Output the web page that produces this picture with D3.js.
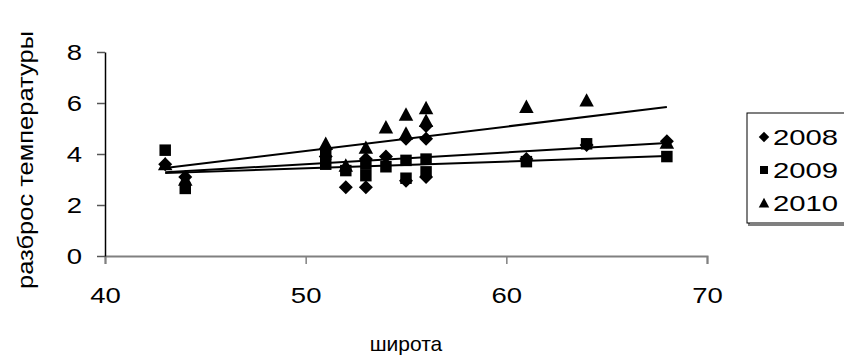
<!DOCTYPE html>
<html><head><meta charset="utf-8">
<script src="https://cdn.jsdelivr.net/npm/d3@7"></script>
<style>html,body{margin:0;padding:0;background:#fff}svg{display:block}</style>
</head><body>
<svg id="c" width="844" height="356"></svg>
<script>
const seriesNames = ["2008", "2009", "2010"];
const lat2008 = [43, 44, 51, 51, 52, 53, 53, 54, 55, 55, 56, 56, 56, 61, 64, 68];
const val2008 = [3.6, 3.1, 4.2, 3.9, 2.7, 2.7, 3.8, 3.9, 4.6, 2.95, 5.1, 4.6, 3.1, 3.8, 4.35, 4.5];
const lat2009 = [43, 44, 51, 51, 52, 53, 53, 54, 55, 55, 56, 56, 61, 64, 68];
const val2009 = [4.15, 2.65, 3.6, 4.0, 3.35, 3.15, 3.6, 3.5, 3.75, 3.05, 3.8, 3.3, 3.7, 4.4, 3.9];
const lat2010 = [43, 44, 51, 52, 53, 54, 55, 55, 56, 56, 61, 64, 68];
const val2010 = [3.6, 3.0, 4.4, 3.55, 4.25, 5.05, 5.55, 4.8, 5.8, 5.3, 5.85, 6.1, 4.45];
// linear trend lines: value at latitude 43 and at 68
const trendLat = [43, 68];
const trend2008 = [3.28, 4.43];
const trend2009 = [3.25, 3.92];
const trend2010 = [3.45, 5.84];
const xTicks = [40, 50, 60, 70];
const yTicks = [0, 2, 4, 6, 8];
const xTitle = "широта";
const yTitle = "разброс температуры";

const series = [
  {name: seriesNames[0], lat: lat2008, val: val2008, trend: trend2008, shape: "diamond"},
  {name: seriesNames[1], lat: lat2009, val: val2009, trend: trend2009, shape: "square"},
  {name: seriesNames[2], lat: lat2010, val: val2010, trend: trend2010, shape: "triangle"}
];

const FONT = "'Liberation Sans', Arial, sans-serif";
const svg = d3.select("#c");
const x = d3.scaleLinear().domain([40, 70]).range([105, 707]);
const y = d3.scaleLinear().domain([0, 8]).range([256, 52]);

function stretch(sel, f) {
  sel.each(function () {
    const len = this.getComputedTextLength();
    d3.select(this).attr("textLength", len * f).attr("lengthAdjust", "spacingAndGlyphs");
  });
}

const shapes = {
  diamond: {draw(ctx, s) { const r = Math.sqrt(s) / 2; ctx.moveTo(0, -r); ctx.lineTo(r, 0); ctx.lineTo(0, r); ctx.lineTo(-r, 0); ctx.closePath(); }},
  square: {draw(ctx, s) { const r = Math.sqrt(s) / 2; ctx.rect(-r, -r, 2 * r, 2 * r); }},
  triangle: {draw(ctx, s) { const r = Math.sqrt(s) / 2; ctx.moveTo(0, -r); ctx.lineTo(r, r * 0.85); ctx.lineTo(-r, r * 0.85); ctx.closePath(); }}
};
const sizes = {diamond: 196, square: 132, triangle: 210};

// axes
const xAxis = svg.append("g").attr("transform", `translate(0,${y(0)})`)
  .call(d3.axisBottom(x).tickValues(xTicks).tickSize(8).tickPadding(23).tickFormat(d3.format("d")));
xAxis.select(".domain").attr("stroke", "#808080").attr("stroke-width", 2);
xAxis.selectAll(".tick line").attr("stroke", "#808080").attr("stroke-width", 1.5);
xAxis.selectAll("text").attr("font-family", FONT).attr("font-size", 22).attr("fill", "#000");
stretch(xAxis.selectAll("text"), 1.25);

const yAxis = svg.append("g").attr("transform", `translate(${x(40)},0)`)
  .call(d3.axisLeft(y).tickValues(yTicks).tickSize(8).tickPadding(15).tickSizeOuter(0).tickFormat(d3.format("d")));
yAxis.select(".domain").attr("stroke", "#000").attr("stroke-width", 1.5);
yAxis.selectAll(".tick line").attr("stroke", "#555").attr("stroke-width", 1.5);
yAxis.selectAll("text").attr("font-family", FONT).attr("font-size", 22).attr("fill", "#000");
stretch(yAxis.selectAll("text"), 1.25);

// titles
svg.append("text").attr("x", 406).attr("y", 351).attr("text-anchor", "middle")
  .attr("font-family", FONT).attr("font-size", 21).text(xTitle);
svg.append("text").attr("transform", `translate(33,160) rotate(-90)`).attr("text-anchor", "middle")
  .attr("font-family", FONT).attr("font-size", 22).attr("textLength", 258).attr("lengthAdjust", "spacingAndGlyphs").text(yTitle);

// points
series.forEach(s => {
  svg.append("g").selectAll("path").data(s.lat.map((l, i) => [l, s.val[i]])).join("path")
    .attr("transform", d => `translate(${x(d[0])},${y(d[1])})`)
    .attr("d", d3.symbol(shapes[s.shape], sizes[s.shape]))
    .attr("fill", "#000");
});

// trend lines
const line = d3.line().x(d => x(d[0])).y(d => y(d[1]));
series.forEach(s => {
  svg.append("path").datum(trendLat.map((l, i) => [l, s.trend[i]]))
    .attr("d", line).attr("fill", "none").attr("stroke", "#000").attr("stroke-width", 2);
});

// legend
const lg = svg.append("g");
lg.append("rect").attr("x", 749).attr("y", 115).attr("width", 110).attr("height", 110)
  .attr("fill", "none").attr("stroke", "#808080").attr("stroke-width", 2);
lg.append("rect").attr("x", 747).attr("y", 113).attr("width", 110).attr("height", 110)
  .attr("fill", "#fff").attr("stroke", "#000").attr("stroke-width", 1);
const legendSizes = {diamond: 110, square: 64, triangle: 110};
series.forEach((s, i) => {
  const cy = 137 + i * 33;
  lg.append("path").attr("transform", `translate(764,${cy})`)
    .attr("d", d3.symbol(shapes[s.shape], legendSizes[s.shape])).attr("fill", "#000");
  const t = lg.append("text").attr("x", 773).attr("y", cy + 8).attr("font-family", FONT).attr("font-size", 22).text(s.name);
  stretch(t, 1.33);
});
</script>
</body></html>
